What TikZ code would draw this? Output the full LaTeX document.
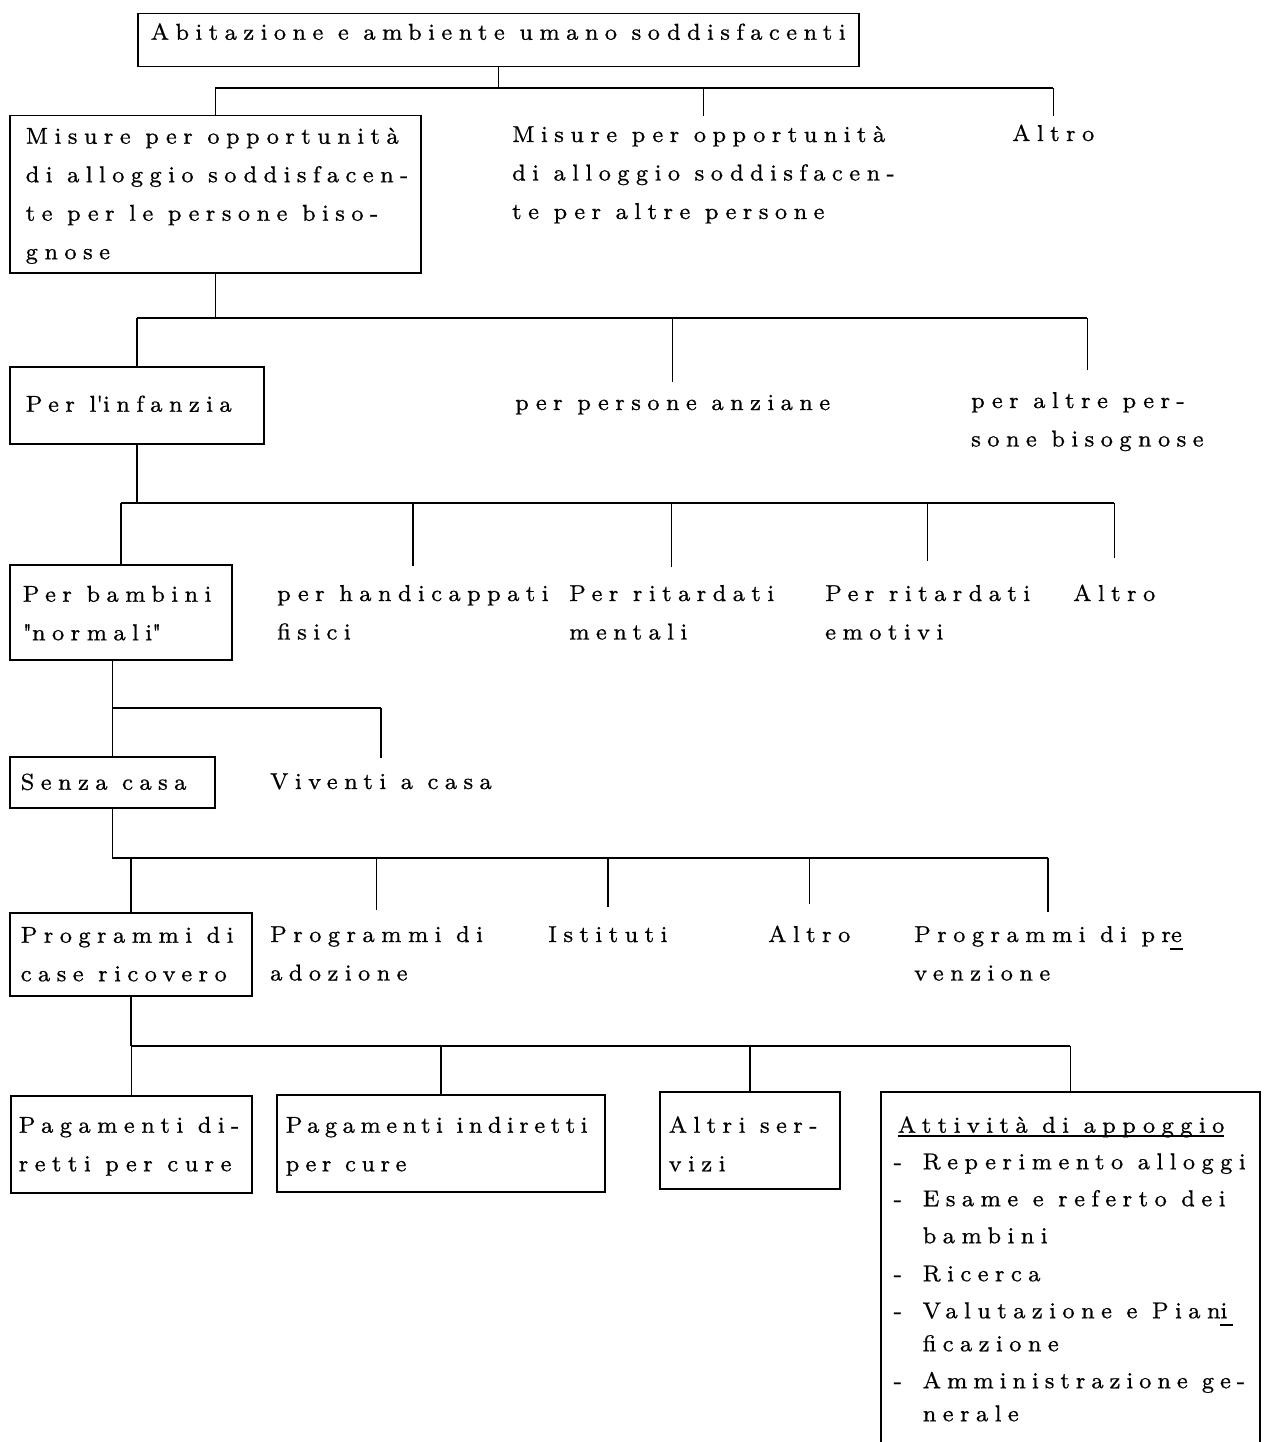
\documentclass[tikz,border=0pt]{standalone}
\usepackage{fontspec}
\setmainfont{lmroman8-regular.otf}[LetterSpace=28, FakeBold=0.7]
\newcommand\tl[1]{\begin{tabular}[t]{@{}l@{}}#1\end{tabular}}
\newcommand\bt[2]{\makebox[#1][l]{\tl{#2}}}
\newcommand\tu[1]{\rlap{\hspace{-1pt}\rule[-8pt]{13pt}{2pt}}#1}
\newcommand\ulin[1]{\setbox0\hbox{#1}\rlap{\rule[-4pt]{\wd0}{1.4pt}}#1}
\begin{document}
\begin{tikzpicture}[x=1pt,y=-1pt,
  every node/.style={font=\fontsize{23}{38.5}\selectfont, inner sep=0pt},
  box/.style={draw, line width=1.5pt, anchor=north west},
  lab/.style={anchor=base west, text height=#1},
  conn/.style={line width=1.5pt}]
\useasboundingbox (0,0) rectangle (1270,1442);
\fill[white] (0,0) rectangle (1270,1442);

% level 0
\node[box, inner xsep=13pt, text height=26pt, text depth=27pt] (top) at (137,13) {\bt{695pt}{Abitazione e ambiente umano soddisfacenti}};

% level 1
\node[box, inner xsep=16pt, text height=28pt, text depth=129pt] (b2) at (9,115) {\bt{379pt}{Misure per opportunità\\di alloggio soddisfacen-\\te per le persone biso-\\gnose}};
\node[lab=26pt] (m2) at (512,142) {\tl{Misure per opportunità\\di alloggio soddisfacen-\\te per altre persone}};
\node[lab=25pt] (al1) at (1012,141) {Altro};

% level 2
\node[box, inner xsep=16pt, text height=45pt, text depth=32pt] (inf) at (9,366) {\bt{222pt}{Per l\textquotesingle infanzia}};
\node[lab=28pt] (anz) at (515,410) {per persone anziane};
\node[lab=38pt] (alt2) at (971,408) {\tl{per altre per-\\sone bisognose}};

% level 3
\node[box, inner xsep=13pt, text height=37pt, text depth=58pt] (bam) at (9,564) {\bt{196pt}{Per bambini\\\textquotedbl normali\textquotedbl}};
\node[lab=35pt] (han) at (277,601) {\tl{per handicappati\\fisici}};
\node[lab=34pt] (rim) at (569,601) {\tl{Per ritardati\\mentali}};
\node[lab=40pt] (rie) at (825,601) {\tl{Per ritardati\\emotivi}};
\node[lab=43pt] (al3) at (1073,601) {Altro};

% level 4
\node[box, inner xsep=11pt, text height=33pt, text depth=18pt] (sen) at (9,756) {\bt{183pt}{Senza casa}};
\node[lab=31pt] (viv) at (270,789) {Viventi a casa};

% level 5
\node[box, inner xsep=11pt, text height=30pt, text depth=53pt] (prg) at (9,912) {\bt{220pt}{Programmi di\\case ricovero}};
\node[lab=32pt] (ado) at (270,942) {\tl{Programmi di\\adozione}};
\node[lab=35pt] (ist) at (548,942) {Istituti};
\node[lab=38pt] (al5) at (768,942) {Altro};
\node[lab=30pt] (pre) at (914,942) {\tl{Programmi di pr\tu{e}\\venzione}};

% level 6
\node[box, inner xsep=8pt, text height=37pt, text depth=60pt] (pd) at (10,1095) {\bt{225pt}{Pagamenti di-\\retti per cure}};
\node[box, inner xsep=9pt, text height=38pt, text depth=59pt] (pin) at (276,1094) {\bt{310pt}{\addfontfeatures{LetterSpace=24}\tl{Pagamenti indiretti\\per cure}}};
\node[box, inner xsep=9pt, text height=41pt, text depth=56pt] (alts) at (659,1091) {\bt{162pt}{Altri ser-\\vizi}};
\node[box, inner xsep=13pt, text height=41pt, text depth=320pt] (att) at (880,1091) {\bt{353pt}{\hspace{4pt}\ulin{Attività di appoggio}\\[-2pt]
\makebox[29pt][l]{-}Reperimento alloggi\\[-1.5pt]
\makebox[29pt][l]{-}Esame e referto dei\\[-1.5pt]
\hspace{29pt}bambini\\[-0.5pt]
\makebox[29pt][l]{-}Ricerca\\[-1.5pt]
\makebox[29pt][l]{-}Valutazione e Pian\tu{i}\\[-5.5pt]
\hspace{29pt}ficazione\\[-1.5pt]
\makebox[29pt][l]{-}{\addfontfeatures{LetterSpace=26}Amministrazione ge-}\\[-5.5pt]
\hspace{29pt}nerale}};

% connectors
\coordinate (r1) at (0,88);
\coordinate (r2) at (0,318);
\coordinate (r3) at (0,503);
\coordinate (r4) at (0,708);
\coordinate (r5) at (0,858);
\coordinate (r6) at (0,1046);

\draw[conn] (top.south) -- (top.south |- r1);
\draw[conn] (b2.north |- r1) -- (al1.north |- r1);
\draw[conn] (b2.north |- r1) -- (b2.north);
\draw[conn] (m2.north |- r1) -- (m2.north);
\draw[conn] (al1.north |- r1) -- (al1.north);

\draw[conn] (b2.south) -- (b2.south |- r2);
\draw[conn] (inf.north |- r2) -- (alt2.north |- r2);
\draw[conn] (inf.north |- r2) -- (inf.north);
\draw[conn] (anz.north |- r2) -- (anz.north);
\draw[conn] (alt2.north |- r2) -- (alt2.north);

\draw[conn] (inf.south) -- (inf.south |- r3);
\draw[conn] (bam.north |- r3) -- (al3.north |- r3);
\draw[conn] (bam.north |- r3) -- (bam.north);
\draw[conn] (han.north |- r3) -- (han.north);
\draw[conn] (rim.north |- r3) -- (rim.north);
\draw[conn] (rie.north |- r3) -- (rie.north);
\draw[conn] (al3.north |- r3) -- (al3.north);

\draw[conn] (bam.south -| sen.north) -- (sen.north);
\draw[conn] (sen.north |- r4) -- (viv.north |- r4);
\draw[conn] (viv.north |- r4) -- (viv.north);

\draw[conn] (sen.south) -- (sen.south |- r5);
\draw[conn] (sen.south |- r5) -- (pre.north |- r5);
\draw[conn] (prg.north |- r5) -- (prg.north);
\draw[conn] (ado.north |- r5) -- (ado.north);
\draw[conn] (ist.north |- r5) -- (ist.north);
\draw[conn] (al5.north |- r5) -- (al5.north);
\draw[conn] (pre.north |- r5) -- (pre.north);

\draw[conn] (prg.south) -- (prg.south |- r6);
\draw[conn] (prg.south |- r6) -- (att.north |- r6);
\draw[conn] (pd.north |- r6) -- (pd.north);
\draw[conn] (pin.north |- r6) -- (pin.north);
\draw[conn] (alts.north |- r6) -- (alts.north);
\draw[conn] (att.north |- r6) -- (att.north);
\end{tikzpicture}
\end{document}
